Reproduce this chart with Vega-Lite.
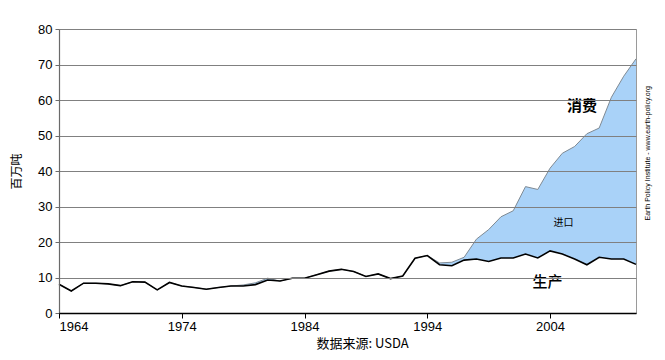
{
  "$schema": "https://vega.github.io/schema/vega-lite/v6.json",
  "width": 577,
  "height": 284,
  "autosize": {"type": "none"},
  "padding": {"left": 59, "top": 29, "right": 29, "bottom": 47},
  "background": "white",
  "config": {
    "view": {"stroke": "#9a9a9a", "strokeWidth": 1},
    "font": "Liberation Sans"
  },
  "datasets": {
    "soy": [
      {"year": 1964, "production": 8.1, "consumption": 8.1},
      {"year": 1965, "production": 6.2, "consumption": 6.2},
      {"year": 1966, "production": 8.4, "consumption": 8.4},
      {"year": 1967, "production": 8.4, "consumption": 8.4},
      {"year": 1968, "production": 8.2, "consumption": 8.2},
      {"year": 1969, "production": 7.7, "consumption": 7.7},
      {"year": 1970, "production": 8.8, "consumption": 8.8},
      {"year": 1971, "production": 8.7, "consumption": 8.7},
      {"year": 1972, "production": 6.5, "consumption": 6.5},
      {"year": 1973, "production": 8.6, "consumption": 8.6},
      {"year": 1974, "production": 7.6, "consumption": 7.6},
      {"year": 1975, "production": 7.2, "consumption": 7.2},
      {"year": 1976, "production": 6.7, "consumption": 6.7},
      {"year": 1977, "production": 7.2, "consumption": 7.2},
      {"year": 1978, "production": 7.6, "consumption": 7.6},
      {"year": 1979, "production": 7.6, "consumption": 7.9},
      {"year": 1980, "production": 8.0, "consumption": 8.5},
      {"year": 1981, "production": 9.3, "consumption": 9.8},
      {"year": 1982, "production": 9.0, "consumption": 9.0},
      {"year": 1983, "production": 9.8, "consumption": 9.8},
      {"year": 1984, "production": 9.8, "consumption": 9.8},
      {"year": 1985, "production": 10.8, "consumption": 10.8},
      {"year": 1986, "production": 11.8, "consumption": 11.8},
      {"year": 1987, "production": 12.3, "consumption": 12.3},
      {"year": 1988, "production": 11.7, "consumption": 11.7},
      {"year": 1989, "production": 10.3, "consumption": 10.3},
      {"year": 1990, "production": 11.0, "consumption": 11.0},
      {"year": 1991, "production": 9.7, "consumption": 9.7},
      {"year": 1992, "production": 10.4, "consumption": 10.4},
      {"year": 1993, "production": 15.4, "consumption": 15.4},
      {"year": 1994, "production": 16.2, "consumption": 16.2},
      {"year": 1995, "production": 13.6, "consumption": 14.1},
      {"year": 1996, "production": 13.3, "consumption": 14.3},
      {"year": 1997, "production": 14.9, "consumption": 15.7},
      {"year": 1998, "production": 15.2, "consumption": 20.8},
      {"year": 1999, "production": 14.5, "consumption": 23.5},
      {"year": 2000, "production": 15.5, "consumption": 27.1},
      {"year": 2001, "production": 15.5, "consumption": 28.8},
      {"year": 2002, "production": 16.6, "consumption": 35.6},
      {"year": 2003, "production": 15.5, "consumption": 34.8},
      {"year": 2004, "production": 17.5, "consumption": 40.8},
      {"year": 2005, "production": 16.6, "consumption": 45.0},
      {"year": 2006, "production": 15.2, "consumption": 46.9},
      {"year": 2007, "production": 13.6, "consumption": 50.5},
      {"year": 2008, "production": 15.7, "consumption": 52.1},
      {"year": 2009, "production": 15.2, "consumption": 60.8},
      {"year": 2010, "production": 15.2, "consumption": 66.7},
      {"year": 2011, "production": 13.7, "consumption": 71.6}
    ],
    "big1": [{"year": 2006.6, "value": 58.3, "label": "消费"}],
    "big2": [{"year": 2003.8, "value": 8.7, "label": "生产"}],
    "small": [{"year": 2005.1, "value": 25.3, "label": "进口"}],
    "credit": [{"year": 2012.0, "value": 45, "label": "Earth Policy Institute - www.earth-policy.org"}]
  },
  "encoding": {
    "x": {
      "field": "year", "type": "quantitative",
      "scale": {"domain": [1964, 2011], "nice": false, "zero": false},
      "axis": {
        "values": [1964, 1974, 1984, 1994, 2004],
        "format": "d",
        "title": "数据来源: USDA",
        "titleFont": "Noto Sans CJK SC",
        "titleFontWeight": "normal",
        "titleFontSize": 13,
        "titleColor": "#000",
        "titlePadding": 4,
        "titleX": 303,
        "labelFontSize": 13,
        "labelColor": "#000",
        "labelFont": "Liberation Sans",
        "labelPadding": 2,
        "domainColor": "#000",
        "domainWidth": 1.5,
        "tickColor": "#000",
        "tickSize": 5,
        "grid": false,
        "zindex": 2
      }
    }
  },
  "resolve": {"axis": {"y": "shared"}},
  "layer": [
    {
      "data": {"name": "soy"},
      "mark": {"type": "area", "color": "#a9d2f8", "opacity": 1},
      "encoding": {
        "y": {
          "field": "consumption", "type": "quantitative",
          "scale": {"domain": [0, 80], "nice": false},
          "axis": {
            "values": [0, 10, 20, 30, 40, 50, 60, 70, 80],
            "tickCount": 9,
            "title": "百万吨",
            "titleFont": "Noto Sans CJK SC",
            "titleFontWeight": "normal",
            "titleFontSize": 12,
            "titleColor": "#000",
            "titlePadding": 14,
            "labelFontSize": 13,
            "labelColor": "#000",
            "labelFont": "Liberation Sans",
            "labelPadding": 3,
            "labelOverlap": false,
            "domainColor": "#6a6a6a",
            "domainWidth": 1.2,
            "ticks": true,
            "tickSize": 4,
            "tickColor": "#6a6a6a",
            "grid": true,
            "gridColor": "#808080",
            "gridWidth": 1,
            "zindex": 1
          }
        },
        "y2": {"field": "production"}
      }
    },
    {
      "data": {"name": "soy"},
      "mark": {"type": "line", "color": "#7f8a94", "strokeWidth": 1},
      "encoding": {
        "y": {"field": "consumption", "type": "quantitative"}
      }
    },
    {
      "data": {"name": "soy"},
      "mark": {"type": "line", "color": "#000", "strokeWidth": 1.6},
      "encoding": {
        "y": {"field": "production", "type": "quantitative"}
      }
    },
    {
      "data": {"name": "big1"},
      "mark": {"type": "text", "font": "Noto Sans CJK SC", "fontSize": 15, "fontWeight": "bold", "color": "#000", "align": "center", "baseline": "middle"},
      "encoding": {
        "y": {"field": "value", "type": "quantitative"},
        "text": {"field": "label"}
      }
    },
    {
      "data": {"name": "big2"},
      "mark": {"type": "text", "font": "Noto Sans CJK SC", "fontSize": 15, "fontWeight": 500, "color": "#000", "align": "center", "baseline": "middle"},
      "encoding": {
        "y": {"field": "value", "type": "quantitative"},
        "text": {"field": "label"}
      }
    },
    {
      "data": {"name": "small"},
      "mark": {"type": "text", "font": "Noto Sans CJK SC", "fontSize": 10, "color": "#000", "align": "center", "baseline": "middle"},
      "encoding": {
        "y": {"field": "value", "type": "quantitative"},
        "text": {"field": "label"}
      }
    },
    {
      "data": {"name": "credit"},
      "mark": {"type": "text", "font": "Liberation Sans", "fontSize": 7, "angle": 270, "color": "#000", "align": "center", "baseline": "middle"},
      "encoding": {
        "y": {"field": "value", "type": "quantitative"},
        "text": {"field": "label"}
      }
    }
  ]
}
